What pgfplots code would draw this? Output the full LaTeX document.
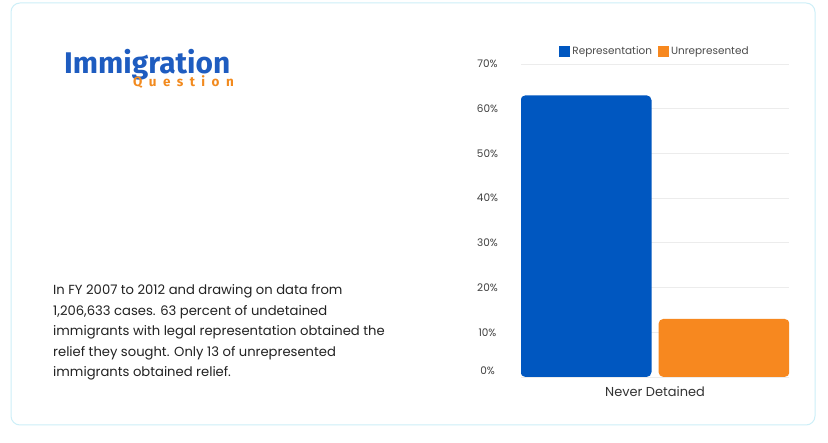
\documentclass[border=0pt]{standalone}
\usepackage{pgfplots}
\pgfplotsset{compat=1.18}
\usepackage{fontspec}
\setmainfont{Poppins}
\newfontfamily\logofont{Fira Sans}
\newfontfamily\qfont[LetterSpace=48]{Fira Sans}

\definecolor{repblue}{HTML}{0057C0}
\definecolor{unrorange}{HTML}{F7881F}
\definecolor{logoblue}{HTML}{1E5CC0}
\definecolor{logoorange}{HTML}{F28A1E}
\definecolor{cardline}{HTML}{CDEFF8}
\definecolor{gridgray}{HTML}{ECECEC}
\definecolor{bodytext}{HTML}{222222}

\begin{document}
\begin{tikzpicture}[x=1bp,y=1bp]
\useasboundingbox[fill=white] (0,0) rectangle (828,443);
\draw[cardline, line width=1bp, rounded corners=9bp] (11,18) rectangle (815,440);

% logo
\node[anchor=base west, inner sep=0pt, text=logoblue,
      font=\logofont\bfseries\fontsize{30}{30}\selectfont] at (64,369) {Immigration};
\node[anchor=base east, inner sep=0pt, text=logoorange,
      font=\qfont\bfseries\fontsize{13.5}{13.5}\selectfont] at (234,356) {Question};

% description
\begin{scope}[every node/.style={anchor=base west, inner sep=0pt, text=bodytext,
      font=\fontsize{13.2}{15}\selectfont}]
\node at (53,148) {In FY 2007 to 2012 and drawing on data from};
\node at (53,127.5) {1,206,633 cases. 63 percent of undetained};
\node at (53,107) {immigrants with legal representation obtained the};
\node at (53,86.5) {relief they sought. Only 13 of unrepresented};
\node at (53,66) {immigrants obtained relief.};
\end{scope}

\begin{axis}[
    at={(521bp,66bp)}, anchor=south west,
    scale only axis,
    width=268bp, height=313bp,
    xmin=-0.5, xmax=0.5,
    ymin=0, ymax=70,
    ybar=7bp,
    bar width=131bp,
    xtick={0},
    xticklabels={Never Detained},
    ytick={10,20,...,70},
    extra y ticks={0},
    extra y tick style={yticklabel style={yshift=6bp}},
    yticklabel={\pgfmathprintnumber{\tick}\%},
    /pgf/number format/assume math mode=true,
    axis line style={draw=none},
    major tick length=0pt,
    ymajorgrids=true,
    grid style={draw=gridgray, line width=0.8bp},
    yticklabel style={anchor=center, xshift=-33.5bp, font=\fontsize{10.5}{12}\selectfont, text=black!75},
    xticklabel style={font=\fontsize{13}{15}\selectfont, text=black!80, yshift=-6bp},
    legend style={at={(0.5,1)}, anchor=south, yshift=4bp, draw=none, fill=none,
        legend columns=-1, font=\fontsize{10.5}{12}\selectfont, text=black!70,
        /tikz/every even column/.append style={column sep=4bp}},
    legend image code/.code={\fill[#1, sharp corners] (0bp,-5.5bp) rectangle (11bp,5.5bp);},
]
\addplot[fill=repblue, draw=none, rounded corners=5bp] coordinates {(0,63)};
\addplot[fill=unrorange, draw=none, rounded corners=5bp] coordinates {(0,13)};
\legend{Representation, Unrepresented}
\end{axis}
\end{tikzpicture}
\end{document}
